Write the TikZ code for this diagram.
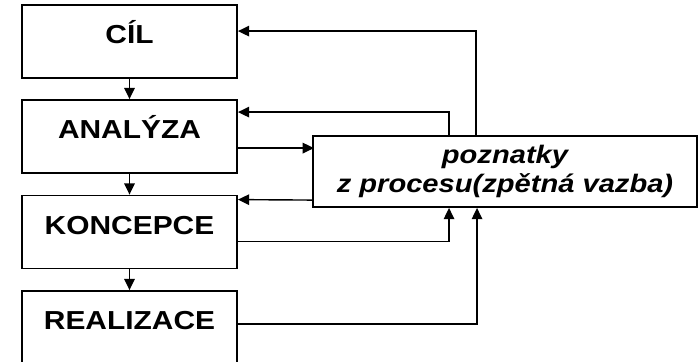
\documentclass[tikz,border=0pt]{standalone}
\usepackage{fontspec}
\newfontfamily\diagfont{Liberation Sans}[FakeStretch=1.15]
\usetikzlibrary{calc}
\usetikzlibrary{arrows.meta}

\tikzset{
    stage/.style={draw, line width=1.3pt, minimum width=5.375cm, inner sep=0pt,
        text height=27.7pt, text depth=24.2pt,
        font=\diagfont\fontsize{18.5}{21}\selectfont\bfseries},
    feedback/.style={draw, line width=1.3pt, minimum width=9.6cm, minimum height=1.775cm,
        align=center, inner sep=0pt,
        font=\diagfont\fontsize{18}{21}\selectfont\bfseries\itshape},
    flow/.style={-{Triangle[length=8pt,width=7.5pt]}, line width=1pt}
}

\begin{document}
\begin{tikzpicture}[x=0.025cm, y=-0.025cm]
    \useasboundingbox (0,0) rectangle (699,362);

    % stages
    \node[stage] (cil) at (129.5, 41.5) {CÍL};
    \node[stage] (analyza) at (129.5, 136.5) {ANALÝZA};
    \node[stage] (koncepce) at (129.5, 232) {KONCEPCE};
    \node[stage] (realizace) at (129.5, 327.5) {REALIZACE};

    \node[feedback] (fb) at (505, 171.5) {poznatky\\z procesu(zpětná vazba)};

    % down the chain
    \draw[flow] (cil) -- (analyza);
    \draw[flow] (analyza) -- (koncepce);
    \draw[flow] (koncepce) -- (realizace);

    % feedback loops
    \draw[flow] ($(fb.north west)+(164,0)$) |- ($(cil.north east)+(0,27)$);
    \draw[flow] ($(fb.north west)+(137,0)$) |- ($(analyza.north east)+(0,13)$);
    \draw[flow] ($(analyza.north east)+(0,49)$) -- ($(analyza.north east)+(76,49)$);
    \draw[flow] ($(fb.north west)+(0,65)$) -- ($(koncepce.north east)+(0,5)$);
    \draw[flow] ($(koncepce.north east)+(0,47)$) -| ($(fb.south west)+(137,0)$);
    \draw[flow] ($(realizace.north east)+(0,34)$) -| ($(fb.south west)+(165,0)$);
\end{tikzpicture}
\end{document}
